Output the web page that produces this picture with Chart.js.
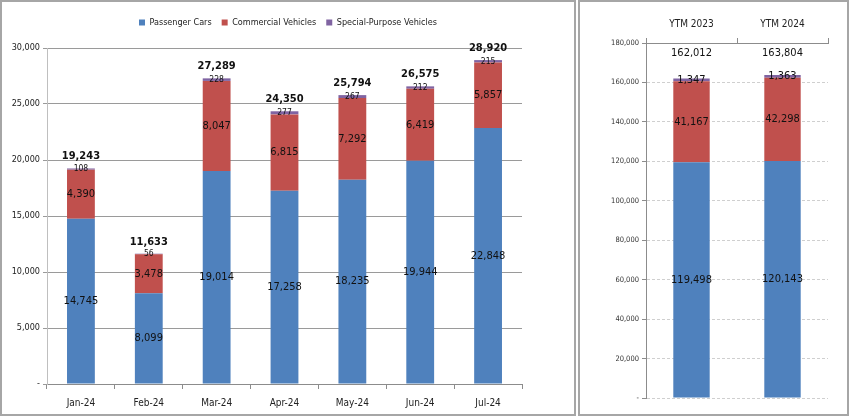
<!DOCTYPE html>
<html>
<head>
<meta charset="utf-8">
<script src="https://cdn.jsdelivr.net/npm/chart.js@4.4.1/dist/chart.umd.min.js"></script>
<style>
  body { margin: 0; background: #fff; }
  .painel { position: absolute; top: 0; border: 2px solid #A6A6A6; box-sizing: border-box; height: 416px; }
  #esq { left: 0; width: 576px; }
  #dir { left: 578px; width: 271px; }
  canvas { display: block; }
</style>
</head>
<body>
<div class="painel" id="esq"><canvas id="mensal" width="572" height="412"></canvas></div>
<div class="painel" id="dir"><canvas id="anual" width="267" height="412"></canvas></div>
<script>
// Dados mensais
const meses = ["Jan-24", "Feb-24", "Mar-24", "Apr-24", "May-24", "Jun-24", "Jul-24"];
const passageiros = [14745, 8099, 19014, 17258, 18235, 19944, 22848];
const comerciais = [4390, 3478, 8047, 6815, 7292, 6419, 5857];
const especiais = [108, 56, 228, 277, 267, 212, 215];

// Dados acumulados
const periodos = ["YTM 2023", "YTM 2024"];
const passageirosAno = [119498, 120143];
const comerciaisAno = [41167, 42298];
const especiaisAno = [1347, 1363];

const cores = ["#4F81BD", "#C0504D", "#8064A2"];
const nomes = ["Passenger Cars", "Commercial Vehicles", "Special-Purpose Vehicles"];
const fonte = "'Liberation Sans Narrow', 'DejaVu Sans Condensed', sans-serif";

const fmt = v => v.toLocaleString('en-US');
const tickFmt = v => v === 0 ? '-' : fmt(v);

// Escreve os valores dentro das barras e os totais
function rotulos(tamanhos, totalFn) {
    return {
        id: 'rotulos',
        afterDatasetsDraw(chart) {
            const ctx = chart.ctx;
            ctx.save();
            ctx.textAlign = 'center';
            ctx.textBaseline = 'middle';
            ctx.fillStyle = '#111';
            chart.data.datasets.forEach((ds, i) => {
                const meta = chart.getDatasetMeta(i);
                ctx.font = tamanhos[i] + 'px ' + fonte;
                meta.data.forEach((bar, j) => {
                    ctx.fillText(fmt(ds.data[j]), bar.x, (bar.y + bar.base) / 2);
                });
            });
            // Totais
            const meta = chart.getDatasetMeta(0);
            meta.data.forEach((bar, j) => {
                const total = chart.data.datasets.reduce((s, ds) => s + ds.data[j], 0);
                totalFn(ctx, chart, bar.x, total);
            });
            ctx.restore();
        }
    };
}

// Espaço extra entre a legenda e o gráfico
const espacoLegenda = {
    id: 'espacoLegenda',
    beforeInit(chart) {
        const fitOriginal = chart.legend.fit;
        chart.legend.fit = function () {
            fitOriginal.bind(chart.legend)();
            this.height += 11;
        };
    }
};

function datasets(a, b, c) {
    return [a, b, c].map((d, i) => ({
        label: nomes[i],
        data: d,
        backgroundColor: cores[i],
        borderWidth: 0
    }));
}

new Chart(document.getElementById('mensal'), {
    type: 'bar',
    data: { labels: meses, datasets: datasets(passageiros, comerciais, especiais) },
    options: {
        responsive: false,
        animation: false,
        devicePixelRatio: 1,
        categoryPercentage: 1,
        barPercentage: 0.41,
        layout: { padding: { top: 6, right: 0, bottom: 0, left: 0 } },
        plugins: {
            tooltip: { enabled: false },
            legend: {
                position: 'top',
                labels: {
                    boxWidth: 6, boxHeight: 6, padding: 10,
                    color: '#222',
                    font: { family: fonte, size: 9 }
                }
            }
        },
        scales: {
            x: {
                stacked: true,
                afterFit: s => { s.height = 30; },
                border: { color: '#8C8C8C' },
                grid: { offset: true, drawOnChartArea: false, tickLength: 5, color: '#8C8C8C' },
                ticks: { padding: 8, color: '#222', font: { family: fonte, size: 10 } }
            },
            y: {
                stacked: true,
                min: 0, max: 30000,
                afterFit: s => { s.width = 45; },
                border: { color: '#BFBFBF' },
                grid: { color: '#9A9A9A', tickLength: 4 },
                ticks: { stepSize: 5000, padding: 3, color: '#222', callback: tickFmt, font: { family: fonte, size: 9 } }
            },
            // eixo vazio à direita, só para reservar a margem
            margem: {
                position: 'right',
                afterFit: s => { s.width = 52; },
                border: { display: false },
                grid: { display: false },
                ticks: { display: false }
            }
        }
    },
    plugins: [espacoLegenda, rotulos([11, 11, 8.5], (ctx, chart, x, total) => {
        ctx.font = 'bold 11px ' + fonte;
        ctx.fillText(fmt(total), x, chart.scales.y.getPixelForValue(total) - 12);
    })]
});

new Chart(document.getElementById('anual'), {
    type: 'bar',
    data: { labels: periodos, datasets: datasets(passageirosAno, comerciaisAno, especiaisAno) },
    options: {
        responsive: false,
        animation: false,
        devicePixelRatio: 1,
        categoryPercentage: 1,
        barPercentage: 0.4,
        layout: { padding: { top: 0, right: 19, bottom: 16, left: 0 } },
        plugins: { tooltip: { enabled: false }, legend: { display: false } },
        scales: {
            x: {
                stacked: true,
                position: 'top',
                afterFit: s => { s.height = 41; },
                border: { color: '#8C8C8C' },
                grid: { offset: true, drawOnChartArea: false, tickLength: 5, color: '#8C8C8C' },
                ticks: { padding: 8, color: '#222', font: { family: fonte, size: 10 } }
            },
            y: {
                stacked: true,
                min: 0, max: 180000,
                afterFit: s => { s.width = 66; },
                border: { color: '#8C8C8C', dash: [3, 2] },
                grid: { color: '#CFCFCF', tickLength: 4, tickColor: '#8C8C8C', tickBorderDash: [] },
                ticks: { stepSize: 20000, padding: 3, color: '#333', callback: tickFmt, font: { family: fonte, size: 7.5 } }
            }
        }
    },
    plugins: [rotulos([11, 11, 11], (ctx, chart, x, total) => {
        ctx.font = '11px ' + fonte;
        ctx.fillText(fmt(total), x, chart.scales.y.getPixelForValue(175000));
    })]
});
</script>
</body>
</html>
